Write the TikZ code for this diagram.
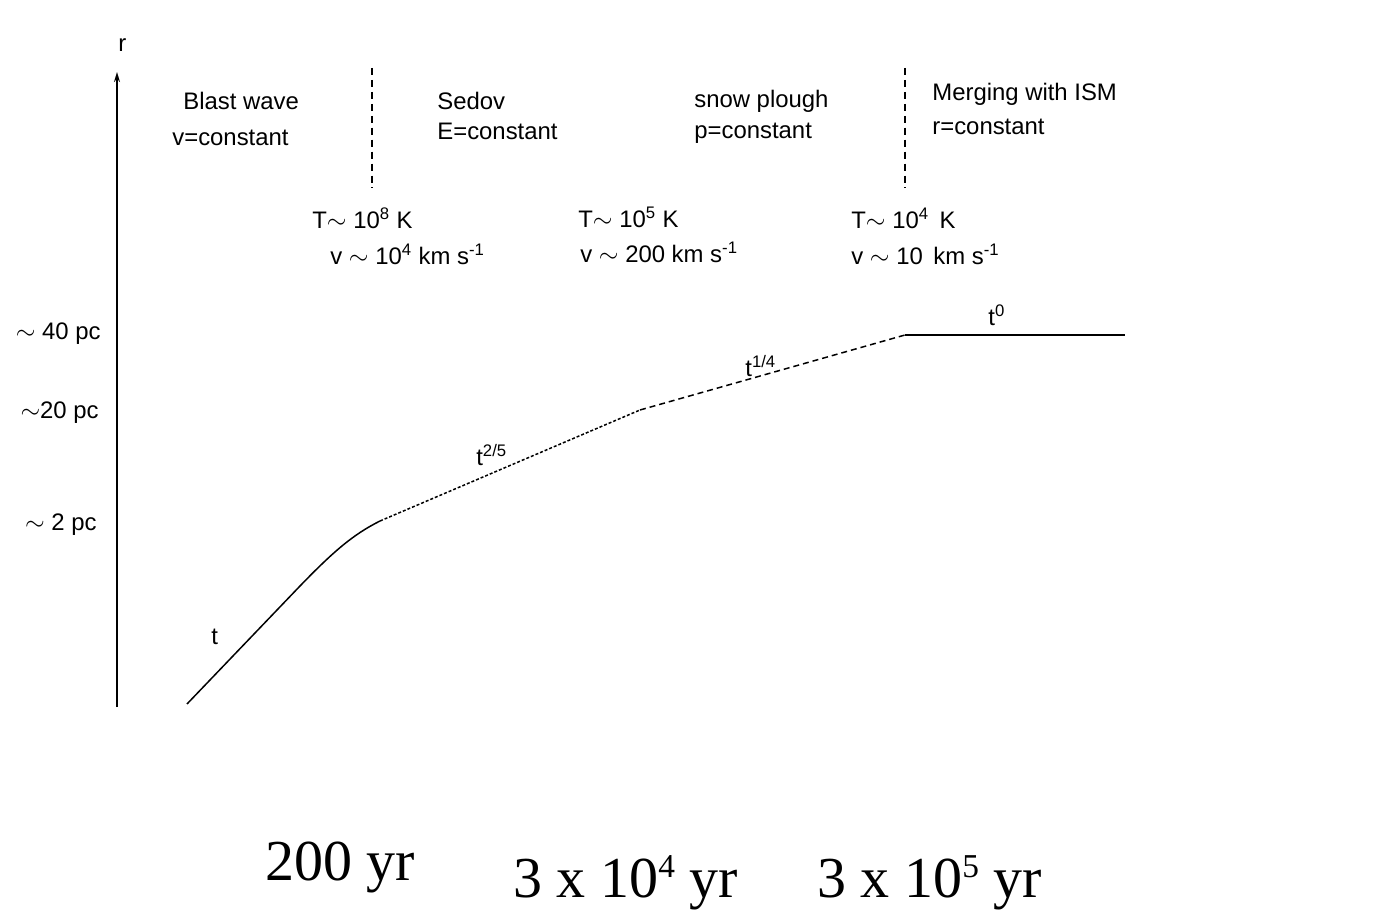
\documentclass[tikz,border=0pt]{standalone}
\usepackage{fontspec}
\setmainfont{Liberation Sans}
\newfontfamily\timesfont{Liberation Serif}
\usetikzlibrary{arrows.meta}
\newcommand\bigsup[1]{\raisebox{11pt}{\fontsize{19}{19}\selectfont #1}}
\begin{document}
\begin{tikzpicture}[x=0.02cm,y=-0.02cm,
  lbl/.style={inner sep=0pt,anchor=base west,font=\fontsize{13.6}{16}\selectfont},
  rlbl/.style={inner sep=0pt,anchor=base east,font=\fontsize{13.6}{16}\selectfont},
  big/.style={inner sep=0pt,anchor=base west,font=\timesfont\fontsize{33}{38}\selectfont},
  sepline/.style={line width=0.9pt,dash pattern=on 4pt off 2.8pt},
  curve/.style={line width=0.85pt}]
\useasboundingbox (0,0) rectangle (1399,911);
% axis
\coordinate (ax0) at (117,707);
\coordinate (ax1) at (117,72);
\draw[line width=1.13pt,-{Stealth[length=5.7pt,width=3.4pt]}] (ax0) -- (ax1);
\node[lbl] (r) at (118,52) {r};
% separators
\coordinate (s1a) at (372,68); \coordinate (s1b) at (372,188);
\coordinate (s2a) at (905,68); \coordinate (s2b) at (905,188);
\draw[sepline] (s1a) -- (s1b);
\draw[sepline] (s2a) -- (s2b);
% phase labels
\node[lbl] (bw) at (183,110) {Blast wave};
\node[lbl] (vc) at (172,146) {v=constant};
\node[lbl] (sd) at (437,110) {Sedov};
\node[lbl] (ec) at (437,140) {E=constant};
\node[lbl] (sp) at (694,108) {snow plough};
\node[lbl] (pc) at (694,139) {p=constant};
\node[lbl] (mg) at (932,101) {Merging with ISM};
\node[lbl] (rc) at (932,135) {r=constant};
% T, v labels
\node[lbl] (T1) at (312,229) {T$\sim$ 10\textsuperscript{8} K};
\node[lbl] (v1) at (330,265) {v $\sim$ 10\textsuperscript{4} km s\textsuperscript{-1}};
\node[lbl] (T2) at (578,228) {T$\sim$ 10\textsuperscript{5} K};
\node[lbl] (v2) at (580,263) {v $\sim$ 200 km s\textsuperscript{-1}};
\node[lbl] (T3) at (851,229) {T$\sim$ 10\textsuperscript{4}\, K};
\node[lbl] (v3) at (851,265) {v $\sim$ 10\, km s\textsuperscript{-1}};
% radius labels
\node[rlbl] (r40) at (101,340) {$\sim$ 40 pc};
\node[rlbl] (r20) at (99,419) {$\sim$20 pc};
\node[rlbl] (r2) at (97,531) {$\sim$ 2 pc};
% curve
\coordinate (c0) at (187,704);
\coordinate (c1) at (300,586);
\coordinate (c2) at (380,521);
\coordinate (c3) at (640,410);
\coordinate (c4) at (905,335);
\coordinate (c5) at (1125,335);
\draw[curve] (c0) -- (c1) .. controls (332,553) and (352,535) .. (c2);
\draw[curve,dash pattern=on 1.7pt off 1.13pt] (c2) -- (c3);
\draw[curve,dash pattern=on 3.4pt off 2.27pt] (c3) -- (c4);
\draw[line width=1.13pt] (c4) -- (c5);
% slope labels
\node[lbl] (L1) at (211,644) {t};
\node[lbl] (L2) at (476,466) {t\textsuperscript{2/5}};
\node[lbl] (L3) at (745,377) {t\textsuperscript{1/4}};
\node[lbl] (L4) at (988,326) {t\textsuperscript{0}};
% times
\node[big] (t1) at (265,880) {200 yr};
\node[big] (t2) at (513,897) {3 x 10\bigsup{4} yr};
\node[big] (t3) at (817,897) {3 x 10\bigsup{5} yr};
\end{tikzpicture}
\end{document}
